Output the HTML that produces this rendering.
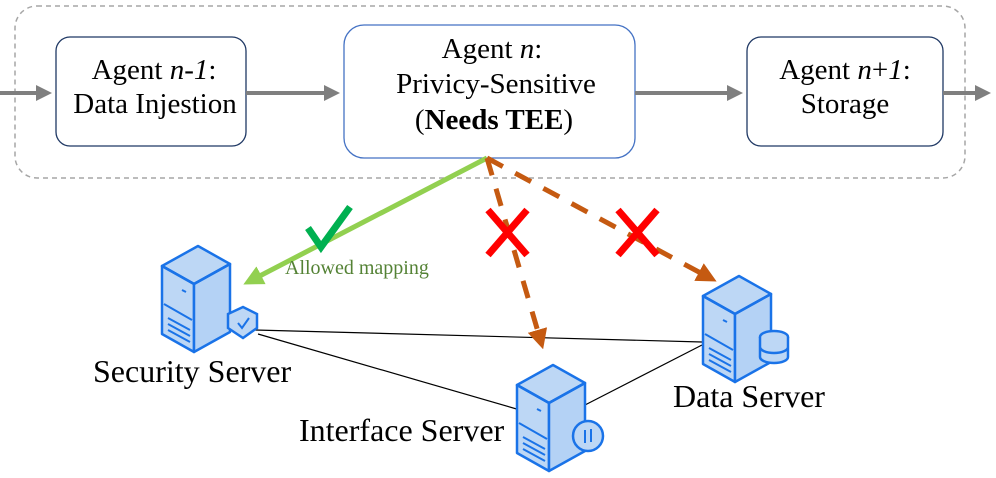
<!DOCTYPE html>
<html><head><style>
body{margin:0;background:#fff;}
svg{display:block;font-family:"Liberation Serif",serif;}
</style></head><body>
<svg width="996" height="478" viewBox="0 0 996 478" xmlns="http://www.w3.org/2000/svg">
<defs>
<marker id="ag" markerWidth="4" markerHeight="4" refX="2.5" refY="2" orient="auto" markerUnits="strokeWidth"><path d="M0,0 L4,2 L0,4z" fill="#7f7f7f"/></marker>
<marker id="ao" markerWidth="4" markerHeight="4" refX="2.5" refY="2" orient="auto" markerUnits="strokeWidth"><path d="M0,0 L4,2 L0,4z" fill="#c55a11"/></marker>
<marker id="agr" markerWidth="4" markerHeight="4" refX="2.5" refY="2" orient="auto" markerUnits="strokeWidth"><path d="M0,0 L4,2 L0,4z" fill="#92d050"/></marker>
<g id="srv">
<path d="M0,28 L36,8 L68,26 L32,46z" fill="#bdd7f5" stroke="#1a73e8" stroke-width="2.5" stroke-linejoin="round"/>
<path d="M0,28 L32,46 L32,114 L0,96z" fill="#bdd7f5" stroke="#1a73e8" stroke-width="2.5" stroke-linejoin="round"/>
<path d="M32,46 L68,26 L68,94 L32,114z" fill="#b4d2f5" stroke="#1a73e8" stroke-width="2.5" stroke-linejoin="round"/>
<path d="M0,28 L32,46 L68,26" fill="none" stroke="#1a73e8" stroke-width="2.5"/>
<path d="M2,66 L30,82 M6,80 L28,92 M6,86 L28,98 M6,92 L28,104 M20,52 L24,54" stroke="#1a73e8" stroke-width="2"/>
</g>
</defs>
<rect x="15" y="6" width="950" height="172" rx="22" fill="none" stroke="#a6a6a6" stroke-width="1.5" stroke-dasharray="5,4"/>
<rect x="56" y="37" width="190" height="109" rx="14" fill="#fff" stroke="#1f3864" stroke-width="1.3"/>
<rect x="344" y="25" width="291" height="133" rx="20" fill="#fff" stroke="#4472c4" stroke-width="1.3"/>
<rect x="747" y="37" width="196" height="109" rx="14" fill="#fff" stroke="#1f3864" stroke-width="1.3"/>
<g stroke="#7f7f7f" stroke-width="4" marker-end="url(#ag)">
<line x1="0" y1="93" x2="46" y2="93"/><line x1="246" y1="93" x2="334" y2="93"/><line x1="635" y1="93" x2="737" y2="93"/><line x1="943" y1="93" x2="985" y2="93"/>
</g>
<g font-size="29" text-anchor="middle" fill="#000">
<text x="154" y="79">Agent <tspan font-style="italic">n-1</tspan>:</text>
<text x="155" y="113">Data Injestion</text>
<text x="492" y="58">Agent <tspan font-style="italic">n</tspan>:</text>
<text x="496" y="93">Privicy-Sensitive</text>
<text x="494" y="129">(<tspan font-weight="bold">Needs TEE</tspan>)</text>
<text x="845" y="79">Agent <tspan font-style="italic">n</tspan>+<tspan font-style="italic">1</tspan>:</text>
<text x="845" y="113">Storage</text>
</g>
<g stroke="#000" stroke-width="1.2">
<line x1="255" y1="330" x2="702" y2="342"/><line x1="258" y1="334" x2="520" y2="410"/><line x1="585" y1="405" x2="702" y2="345"/>
</g>
<line x1="487" y1="158" x2="250" y2="281" stroke="#92d050" stroke-width="5" marker-end="url(#agr)"/>
<g stroke="#c55a11" stroke-width="5" stroke-dasharray="18,14" fill="none">
<line x1="487" y1="158" x2="541" y2="342" marker-end="url(#ao)"/>
<line x1="487" y1="158" x2="710" y2="278" marker-end="url(#ao)"/>
</g>
<g stroke="#ff0000" stroke-width="7">
<line x1="488" y1="210" x2="527" y2="255"/><line x1="527" y1="210" x2="488" y2="255"/>
<line x1="618" y1="210" x2="657" y2="255"/><line x1="657" y1="210" x2="618" y2="255"/>
</g>
<path d="M308,228 L321,247 L350,207" fill="none" stroke="#00b050" stroke-width="7"/>
<text x="285" y="274" font-size="20" fill="#548235">Allowed mapping</text>
<use href="#srv" x="162" y="238"/>
<g transform="translate(243,322)"><path d="M-15,-8 L0,-15 L14,-8 L14,6 L0,16 L-15,6z" fill="#bdd7f5" stroke="#1a73e8" stroke-width="2.5"/><path d="M-5,1 L-1,6 L6,-4" fill="none" stroke="#1a73e8" stroke-width="2"/></g>
<use href="#srv" x="517" y="357"/>
<g transform="translate(588,436)"><circle r="15" fill="#bdd7f5" stroke="#1a73e8" stroke-width="2.5"/><path d="M-3,7 L-3,-6 M3,-7 L3,6" stroke="#1a73e8" stroke-width="2"/></g>
<use href="#srv" x="703" y="268"/>
<g transform="translate(774,347)"><ellipse cx="0" cy="-10" rx="14" ry="6" fill="#bdd7f5" stroke="#1a73e8" stroke-width="2.5"/><path d="M-14,-10 L-14,10 A14,6 0 0 0 14,10 L14,-10 M-14,0 A14,6 0 0 0 14,0" fill="#bdd7f5" stroke="#1a73e8" stroke-width="2.5"/></g>
<g font-size="32" fill="#000">
<text x="93" y="382">Security Server</text>
<text x="299" y="441">Interface Server</text>
<text x="673" y="407">Data Server</text>
</g>
</svg>
</body></html>
